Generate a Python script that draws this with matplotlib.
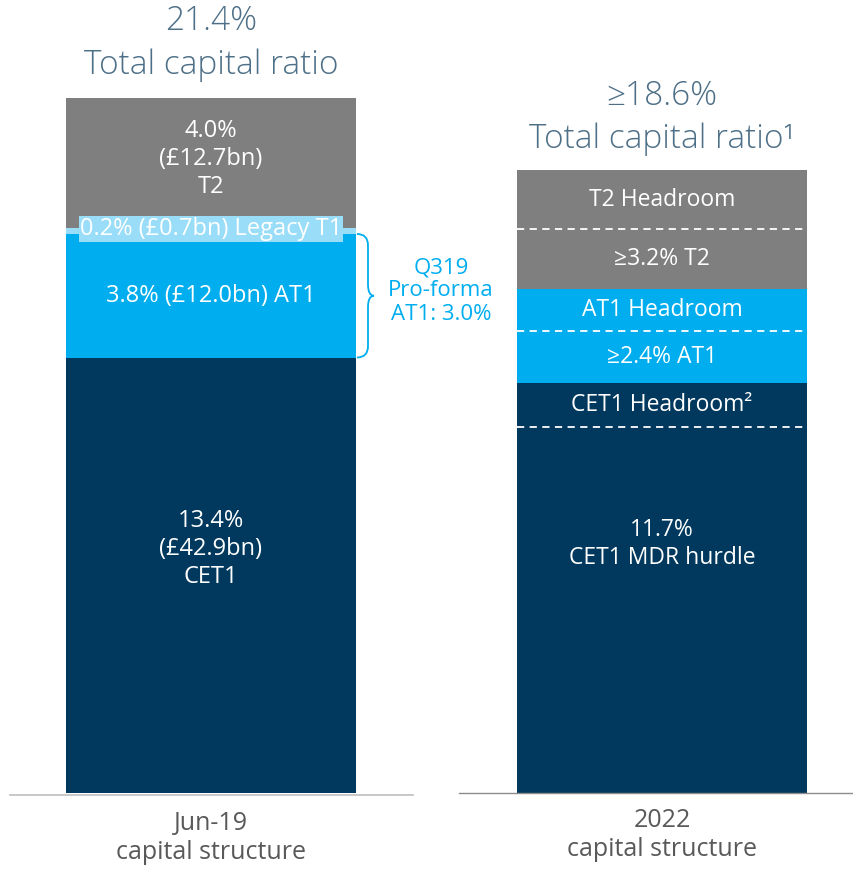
import matplotlib.pyplot as plt
from matplotlib.path import Path
from matplotlib.patches import PathPatch

plt.rcParams['font.family'] = ['Open Sans', 'DejaVu Sans']

# left bar: Jun-19 capital structure (% of RWA)
jun_segments = ['CET1', 'AT1', 'Legacy T1', 'T2']
jun_values = [13.4, 3.8, 0.2, 4.0]
jun_labels = ['13.4%\n(£42.9bn)\nCET1', '3.8% (£12.0bn) AT1', '0.2% (£0.7bn) Legacy T1', '4.0%\n(£12.7bn)\nT2']
jun_colors = ['#00395d', '#00aeef', '#99ddf8', '#7f7f7f']

# right bar: 2022 capital structure (drawn heights as shown in the picture)
y22_segments = ['CET1 MDR hurdle', 'CET1 Headroom', 'AT1', 'AT1 Headroom', 'T2', 'T2 Headroom']
y22_values = [11.26, 1.35, 1.6, 1.29, 1.85, 1.82]
y22_labels = ['11.7%\nCET1 MDR hurdle', 'CET1 Headroom²', '≥2.4% AT1', 'AT1 Headroom', '≥3.2% T2', 'T2 Headroom']
y22_colors = ['#00395d', '#00395d', '#00aeef', '#00aeef', '#7f7f7f', '#7f7f7f']
y22_dashed = [True, False, True, False, True, False]  # dashed line on top of segment

categories = ['Jun-19\ncapital structure', '2022\ncapital structure']
titles = [('21.4%', 'Total capital ratio'), ('≥18.6%', 'Total capital ratio¹')]

# layout helpers (pixels -> data)
PX = 32.5          # pixels per percentage point
BASE = 793         # pixel row of zero
XC = [211, 662]    # bar centres in pixels
XU = 451           # pixels per x unit


def py(p):
    return (BASE - p) / PX


def px(p):
    return (p - XC[0]) / XU


fig = plt.figure(figsize=(8.54, 8.69), dpi=100)
ax = fig.add_axes([0, 0, 1, 1])
ax.set_xlim(px(0), px(854))
ax.set_ylim(py(869), py(0))
ax.axis('off')

width = 290 / XU
label_color = '#4d6f87'

# left bar
bottom = 0
jun_label_frac = [0.56, 0.5, 0.5, 0.53]
for i, v in enumerate(jun_values):
    ax.bar(0, v, width, bottom=bottom, color=jun_colors[i], linewidth=0)
    y = bottom + v * jun_label_frac[i]
    if jun_segments[i] == 'Legacy T1':
        ax.text(0, y + 0.05, jun_labels[i], ha='center', va='center', color='white', fontsize=17,
                bbox=dict(boxstyle='square,pad=0.05', facecolor='#99ddf8', edgecolor='none'))
    else:
        ax.text(0, y, jun_labels[i], ha='center', va='center', color='white', fontsize=17,
                linespacing=1.22)
    bottom += v

# right bar
bottom = 0
for i, v in enumerate(y22_values):
    ax.bar(1, v, width, bottom=bottom, color=y22_colors[i], linewidth=0)
    frac = 0.68 if i == 0 else 0.5
    ax.text(1, bottom + v * frac, y22_labels[i], ha='center', va='center', color='white',
            fontsize=16.5, linespacing=1.22)
    if y22_dashed[i]:
        ax.plot([1 - width / 2, 1 + width / 2], [bottom + v, bottom + v], color='white',
                lw=1.3, dashes=(4, 3))
    bottom += v

# titles
tkw = dict(ha='center', va='bottom', fontsize=24, color=label_color, fontweight='light')
ax.text(0, py(38), titles[0][0], **tkw)
ax.text(0, py(82), titles[0][1], **tkw)
ax.text(1, py(113), titles[1][0], **tkw)
ax.text(1, py(156), titles[1][1], **tkw)

# baselines
ax.plot([px(10), px(413)], [py(795), py(795)], color='#bfbfbf', lw=1.2)
ax.plot([px(459), px(854)], [py(793), py(793)], color='#8c8c8c', lw=1.0)

# category labels
ax.text(0, py(838), categories[0], ha='center', va='center', fontsize=18, color='#595959',
        linespacing=1.2)
ax.text(1, py(835), categories[1], ha='center', va='center', fontsize=18, color='#595959',
        linespacing=1.2)

# brace around AT1
b0 = jun_values[0]
b1 = jun_values[0] + jun_values[1]
bm = (b0 + b1) / 2
x0 = px(357)
x1 = px(368)
xt = px(374)
r = 0.35
verts = [(x0, b0), (x1, b0), (x1, b0 + r),
         (x1, bm - r), (x1, bm), (xt, bm),
         (x1, bm), (x1, bm + r),
         (x1, b1 - r), (x1, b1), (x0, b1)]
codes = [Path.MOVETO, Path.CURVE3, Path.CURVE3,
         Path.LINETO, Path.CURVE3, Path.CURVE3,
         Path.CURVE3, Path.CURVE3,
         Path.LINETO, Path.CURVE3, Path.CURVE3]
ax.add_patch(PathPatch(Path(verts, codes), facecolor='none', edgecolor='#00aeef', lw=1.3))
ax.text(px(441), py(291), 'Q319\nPro-forma\nAT1: 3.0%', ha='center', va='center',
        fontsize=16, color='#00aeef', linespacing=1.15)

fig.savefig('out.png', dpi=100)
